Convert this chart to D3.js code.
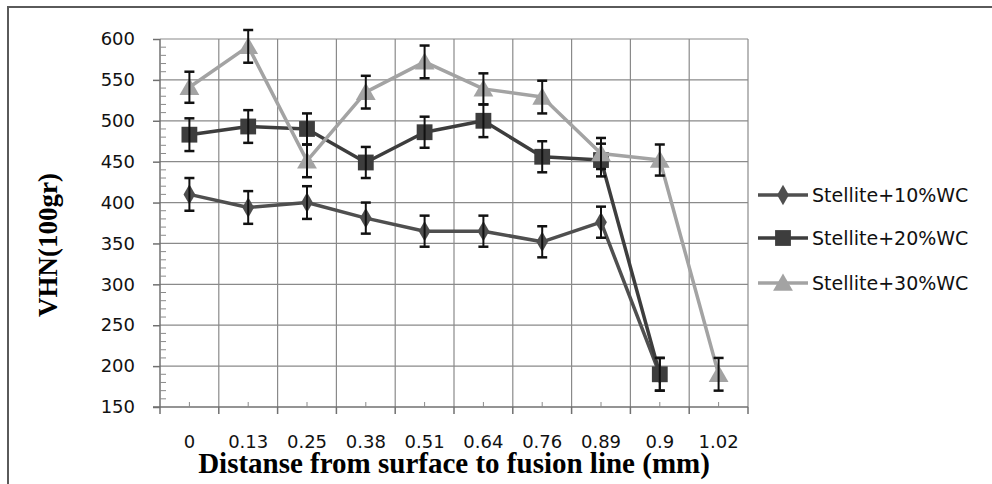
<!DOCTYPE html>
<html><head><meta charset="utf-8">
<script src="https://cdn.jsdelivr.net/npm/d3@7"></script>
<style>body{margin:0;background:#fff}svg{display:block}</style>
</head><body>
<svg id="c" width="992" height="484"></svg>
<script>
const categories = ["0","0.13","0.25","0.38","0.51","0.64","0.76","0.89","0.9","1.02"];
const s10 = [410, 394, 400, 381, 365, 365, 352, 376, 190, null];
const s20 = [483, 493, 490, 449, 486, 500, 456, 452, 190, null];
const s30 = [541, 591, 451, 535, 572, 539, 529, 460, 452, 190];
const err10 = [20, 20, 20, 19, 19, 19, 19, 19, 20, null];
const err20 = [20, 20, 19, 19, 19, 20, 19, 20, 20, null];
const err30 = [19, 20, 20, 20, 20, 19, 20, 19, 19, 20];
const seriesNames = ["Stellite+10%WC","Stellite+20%WC","Stellite+30%WC"];
const yTicks = [150,200,250,300,350,400,450,500,550,600];

const svg = d3.select("#c");
const L=160,R=748,T=39,B=407;
const x = d3.scaleBand().domain(categories).range([L,R]).padding(0);
const y = d3.scaleLinear().domain([150,600]).range([B,T]);
const cx = c => x(c)+x.bandwidth()/2;

// outer border
svg.append("path").attr("d","M8,484 L8,7 L992,7").attr("fill","none").attr("stroke","#5a5a5a").attr("stroke-width",2);

// gridlines
svg.append("g").selectAll("line").data(yTicks.slice(1)).join("line")
  .attr("x1",L).attr("x2",R).attr("y1",d=>y(d)).attr("y2",d=>y(d))
  .attr("stroke","#8a8a8a").attr("stroke-width",1.2);
svg.append("g").selectAll("line").data(categories).join("line")
  .attr("x1",d=>x(d)+x.bandwidth()).attr("x2",d=>x(d)+x.bandwidth()).attr("y1",T).attr("y2",B)
  .attr("stroke","#8a8a8a").attr("stroke-width",1.2);

// y axis
const yAxis = svg.append("g").attr("transform",`translate(${L},0)`)
  .call(d3.axisLeft(y).tickValues(yTicks).tickSize(7).tickPadding(18));
yAxis.select(".domain").attr("stroke","#707070").attr("stroke-width",1.5).attr("d",`M0,${T}V${B}`);
yAxis.selectAll(".tick line").attr("stroke","#707070").attr("stroke-width",1.5);
yAxis.selectAll("text").attr("font-family","DejaVu Sans").attr("font-size",18).attr("fill","#111");
// minor y ticks
const minor = d3.range(160,600,10).filter(v=>v%50!==0);
svg.append("g").selectAll("line").data(minor).join("line")
  .attr("x1",L).attr("x2",L+6).attr("y1",d=>y(d)).attr("y2",d=>y(d))
  .attr("stroke","#8a8a8a").attr("stroke-width",1);

// x axis
const xAxis = svg.append("g").attr("transform",`translate(0,${B})`)
  .call(d3.axisBottom(x).tickSize(0).tickPadding(28));
xAxis.select(".domain").attr("stroke","#707070").attr("stroke-width",1.5).attr("d",`M${L-7},0H${R}`);
xAxis.selectAll("text").attr("font-family","DejaVu Sans").attr("font-size",18).attr("fill","#111");
const bounds = [L].concat(categories.map(c=>x(c)+x.bandwidth()));
svg.append("g").selectAll("line").data(bounds).join("line")
  .attr("x1",d=>d).attr("x2",d=>d).attr("y1",B).attr("y2",B+7)
  .attr("stroke","#707070").attr("stroke-width",1.5);
svg.append("g").selectAll("line").data(categories).join("line")
  .attr("x1",d=>cx(d)).attr("x2",d=>cx(d)).attr("y1",B).attr("y2",B-5)
  .attr("stroke","#8a8a8a").attr("stroke-width",1);

// axis titles
svg.append("text").attr("x",(L+R)/2).attr("y",473).attr("text-anchor","middle")
  .attr("font-family","Liberation Serif").attr("font-weight","bold").attr("font-size",29).attr("fill","#000")
  .text("Distanse from surface to fusion line (mm)");
svg.append("text").attr("transform","translate(57,245) rotate(-90)").attr("text-anchor","middle")
  .attr("font-family","Liberation Serif").attr("font-weight","bold").attr("font-size",27).attr("fill","#000")
  .text("VHN(100gr)");

// series
const colors = ["#4f4f4f","#3d3d3d","#a3a3a3"];
const shapes = [d3.symbolDiamond, d3.symbolSquare, d3.symbolTriangle];
const sizes = [120, 250, 170];
const allS = [s10,s20,s30], allE=[err10,err20,err30];
const line = d3.line().defined(d=>d.v!=null).x(d=>cx(d.c)).y(d=>y(d.v));

allS.forEach((s,i)=>{
  const data = categories.map((c,k)=>({c, v:s[k], e:allE[i][k]}));
  const g = svg.append("g");
  g.append("path").datum(data).attr("d",line).attr("fill","none")
    .attr("stroke",colors[i]).attr("stroke-width",3.5).attr("stroke-linejoin","round");
  g.selectAll("path.m").data(data.filter(d=>d.v!=null)).join("path").attr("class","m")
    .attr("transform",d=>`translate(${cx(d.c)},${y(d.v)+(i===2?2:0)})`)
    .attr("d",d3.symbol(shapes[i],sizes[i])).attr("fill",colors[i]);
  const eb = g.selectAll("g.e").data(data.filter(d=>d.v!=null)).join("g").attr("class","e");
  eb.append("line").attr("x1",d=>cx(d.c)).attr("x2",d=>cx(d.c))
    .attr("y1",d=>y(d.v+d.e)).attr("y2",d=>y(d.v-d.e)).attr("stroke","#111").attr("stroke-width",2);
  [1,-1].forEach(sg=>{
    eb.append("line").attr("x1",d=>cx(d.c)-5).attr("x2",d=>cx(d.c)+5)
      .attr("y1",d=>y(d.v+sg*d.e)).attr("y2",d=>y(d.v+sg*d.e)).attr("stroke","#111").attr("stroke-width",2.5);
  });
});

// legend
const ly = [195,238,283];
seriesNames.forEach((n,i)=>{
  const g = svg.append("g");
  g.append("line").attr("x1",758).attr("x2",808).attr("y1",ly[i]).attr("y2",ly[i])
    .attr("stroke",colors[i]).attr("stroke-width",3.5);
  g.append("path").attr("transform",`translate(783,${ly[i]+(i===2?2:0)})`)
    .attr("d",d3.symbol(shapes[i],sizes[i])).attr("fill",colors[i]);
  g.append("text").attr("x",812).attr("y",ly[i]).attr("dy","0.36em")
    .attr("font-family","DejaVu Sans").attr("font-size",19).attr("fill","#111").text(n);
});
</script>
</body></html>
